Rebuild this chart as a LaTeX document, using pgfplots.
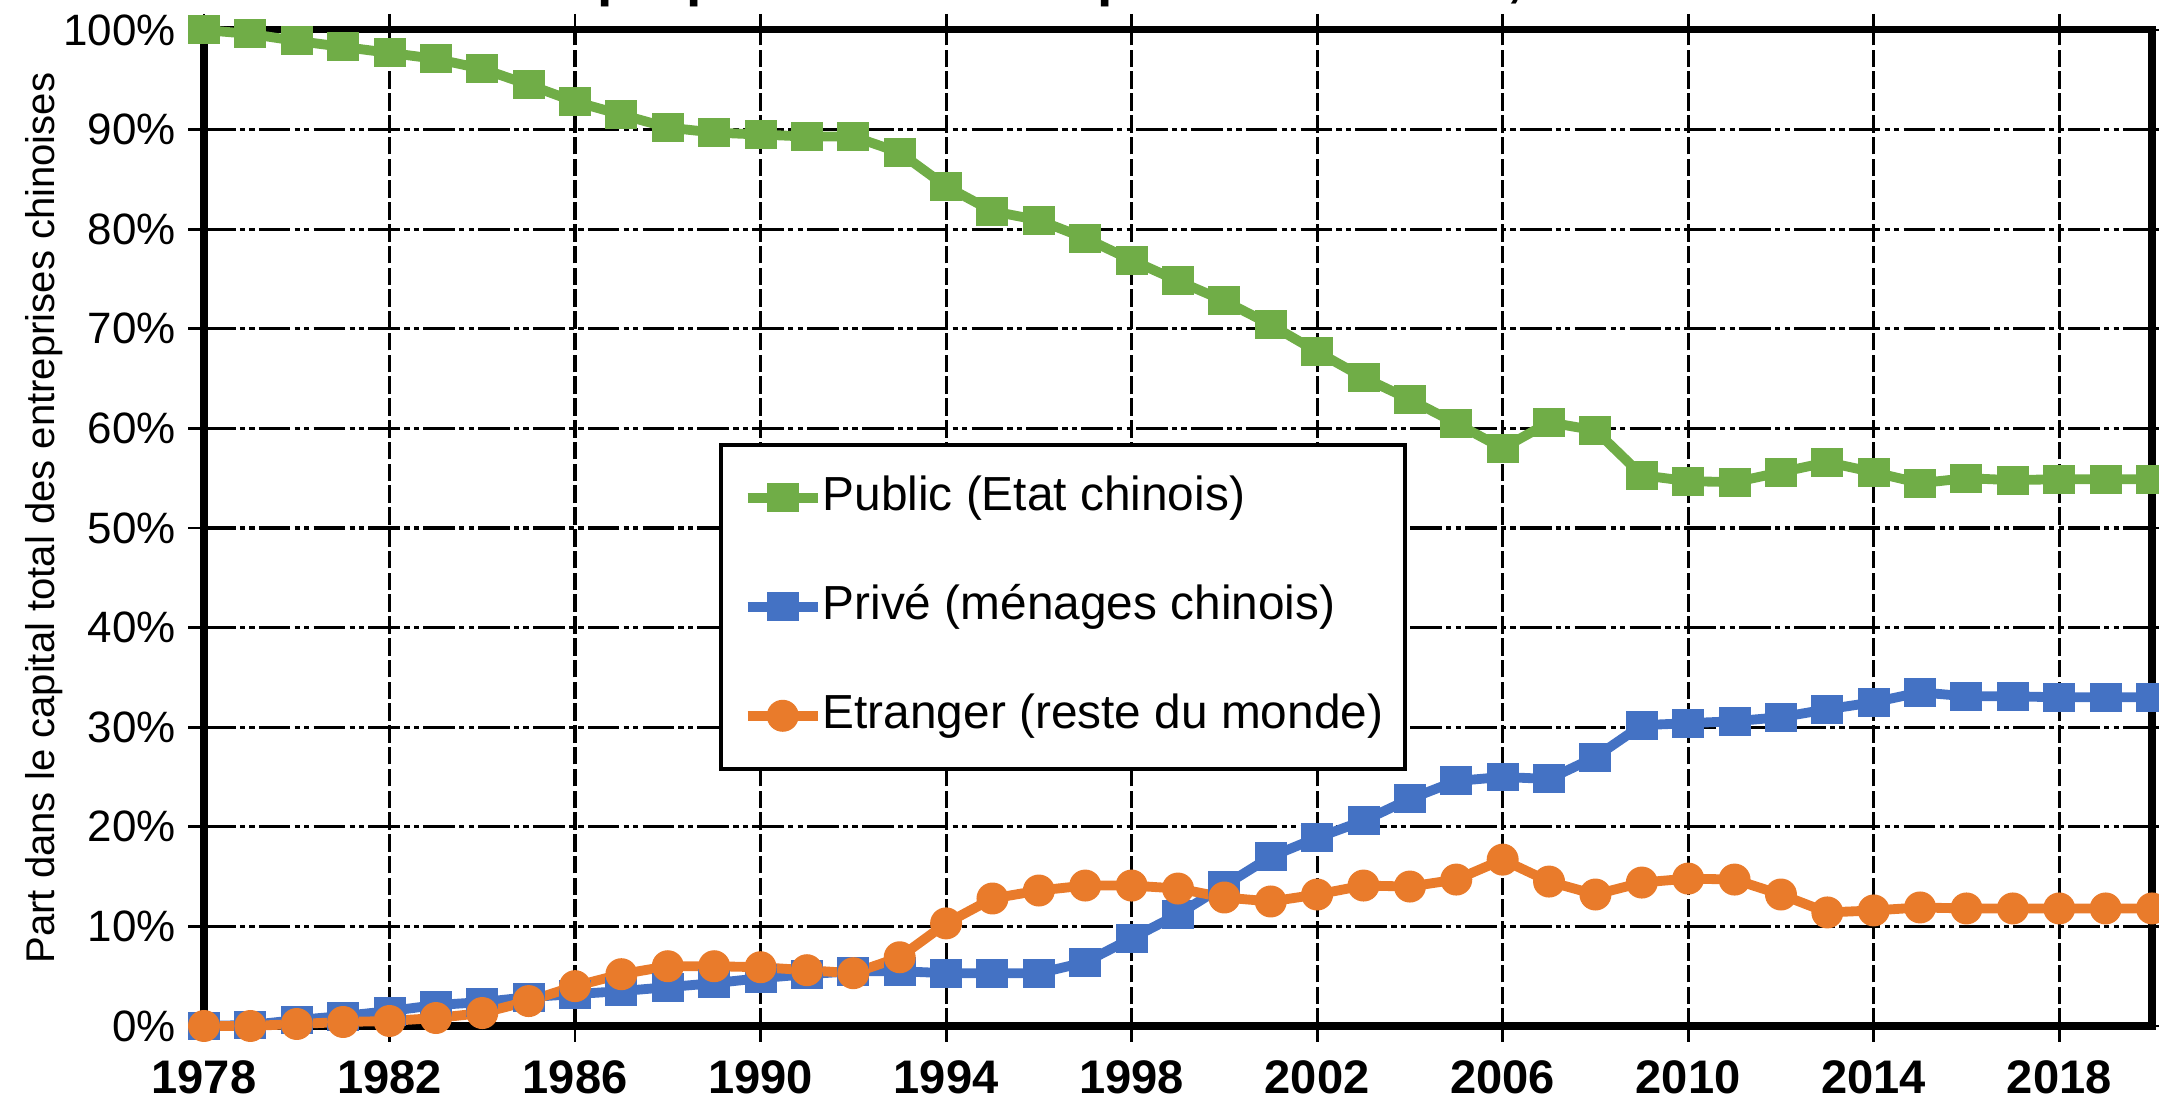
\documentclass[border=0pt]{standalone}
\usepackage{fontspec}
\setmainfont{Liberation Sans}
\usepackage{pgfplots}
\pgfplotsset{compat=1.18}
\definecolor{pubgreen}{HTML}{70AD47}
\definecolor{privblue}{HTML}{4472C4}
\definecolor{etrorange}{HTML}{E97B2B}

\begin{document}
\begin{tikzpicture}
\useasboundingbox (0,0) rectangle (21.59cm,11.01cm);
\begin{axis}[
    at={(2.04cm,0.75cm)}, anchor=south west,
    width=19.48cm, height=9.96cm, scale only axis,
    xmin=1978, xmax=2020, ymin=0, ymax=100,
    xtick={1978,1982,...,2018},
    ytick={0,10,...,100},
    /pgf/number format/1000 sep={},
    /pgf/number format/assume math mode=true,
    yticklabel={\pgfmathprintnumber{\tick}\%},
    xticklabel style={font=\bfseries\fontsize{13.4}{16}\selectfont, yshift=-0.06cm},
    yticklabel style={font=\fontsize{12.5}{15}\selectfont},
    tick align=outside, major tick length=0.16cm,
    tick style={black, line width=0.8pt},
    xmajorgrids, ymajorgrids,
    x grid style={black, line width=0.9pt, dash pattern=on 5pt off 1.2pt},
    y grid style={black, line width=0.9pt, dash pattern=on 9pt off 1.2pt on 1.5pt off 1.2pt on 1.5pt off 1.2pt},
    axis line style={black, line width=2pt},
    clip=false,
    title={La propriété des entreprises en Chine, 1978-2020},
    title style={at={(axis description cs:0.4908,1.0131)}, anchor=base,
        font=\bfseries\fontsize{15.7}{19}\selectfont},
    ylabel={Part dans le capital total des entreprises chinoises},
    ylabel style={at={(axis description cs:-0.0821,0.51)}, anchor=center,
        font=\fontsize{11.4}{13}\selectfont},
    legend cell align=left,
    legend image code/.code={\draw[mark repeat=2, mark phase=2, #1]
        plot coordinates {(0cm,0cm) (0.35cm,0cm) (0.7cm,0cm)};},
    legend style={at={(axis description cs:0.2644,0.5853)}, anchor=north west,
        draw=black, line width=1pt, fill=white,
        inner xsep=0.22cm, inner ysep=0.30cm, row sep=0.63cm,
        font=\fontsize{13.6}{16}\selectfont,
        nodes={inner sep=0pt, text height=0.36cm, text depth=0.1cm}},
]
\addplot[color=pubgreen, line width=2.8pt, mark=square*,
    mark options={solid, fill=pubgreen, draw=pubgreen, line width=0.5pt, yscale=0.9}, mark size=4.3pt]
coordinates {
(1978,100) (1979,99.6) (1980,98.9) (1981,98.3) (1982,97.7) (1983,97.1) (1984,96.1)
(1985,94.5) (1986,92.8) (1987,91.5) (1988,90.2) (1989,89.7) (1990,89.5) (1991,89.3)
(1992,89.3) (1993,87.7) (1994,84.3) (1995,81.8) (1996,80.9) (1997,79.1) (1998,76.9)
(1999,74.8) (2000,72.8) (2001,70.4) (2002,67.7) (2003,65.1) (2004,62.9) (2005,60.5)
(2006,58.0) (2007,60.6) (2008,59.8) (2009,55.3) (2010,54.7) (2011,54.6) (2012,55.6)
(2013,56.6) (2014,55.6) (2015,54.5) (2016,55.0) (2017,54.8) (2018,54.9) (2019,54.9)
(2020,54.9)};
\addplot[color=privblue, line width=2.8pt, mark=square*,
    mark options={solid, fill=privblue, draw=privblue, line width=0.5pt, yscale=0.9}, mark size=4.3pt]
coordinates {
(1978,0) (1979,0.1) (1980,0.6) (1981,1.0) (1982,1.5) (1983,2.1) (1984,2.4)
(1985,2.9) (1986,3.2) (1987,3.5) (1988,3.9) (1989,4.3) (1990,4.8) (1991,5.2)
(1992,5.5) (1993,5.5) (1994,5.3) (1995,5.3) (1996,5.3) (1997,6.4) (1998,8.8)
(1999,11.2) (2000,14.1) (2001,17.0) (2002,18.9) (2003,20.6) (2004,22.8) (2005,24.6)
(2006,25.0) (2007,24.8) (2008,27.0) (2009,30.2) (2010,30.4) (2011,30.6) (2012,31.0)
(2013,31.8) (2014,32.5) (2015,33.5) (2016,33.1) (2017,33.1) (2018,33.0) (2019,33.0)
(2020,33.0)};
\addplot[color=etrorange, line width=2.8pt, mark=*,
    mark options={solid, fill=etrorange, draw=etrorange, line width=0.5pt}, mark size=4.3pt]
coordinates {
(1978,0) (1979,0) (1980,0.2) (1981,0.4) (1982,0.5) (1983,0.8) (1984,1.3)
(1985,2.5) (1986,4.0) (1987,5.2) (1988,6.0) (1989,6.0) (1990,5.9) (1991,5.6)
(1992,5.3) (1993,6.9) (1994,10.3) (1995,12.8) (1996,13.6) (1997,14.1) (1998,14.1)
(1999,13.8) (2000,12.9) (2001,12.5) (2002,13.2) (2003,14.1) (2004,14.0) (2005,14.7)
(2006,16.7) (2007,14.5) (2008,13.2) (2009,14.4) (2010,14.8) (2011,14.7) (2012,13.2)
(2013,11.4) (2014,11.6) (2015,11.9) (2016,11.8) (2017,11.8) (2018,11.8) (2019,11.8)
(2020,11.8)};
\legend{Public (Etat chinois), Privé (ménages chinois), Etranger (reste du monde)}
\end{axis}
\end{tikzpicture}
\end{document}
